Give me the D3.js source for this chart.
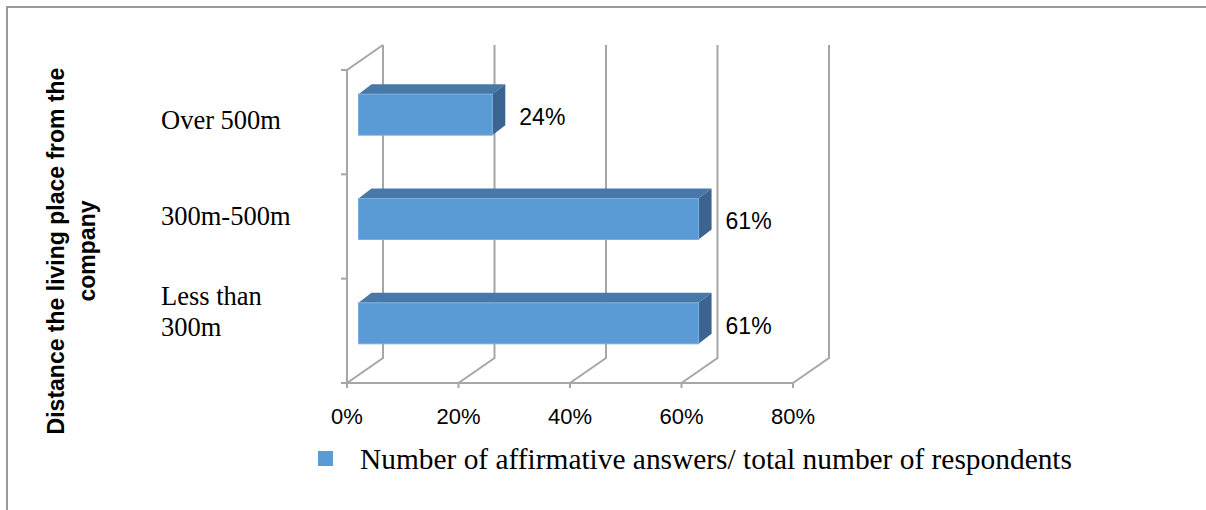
<!DOCTYPE html>
<html>
<head>
<meta charset="utf-8">
<script src="https://cdn.jsdelivr.net/npm/d3@7"></script>
<style>
  html, body { margin: 0; padding: 0; background: #fff; }
  svg { display: block; }
</style>
</head>
<body>
<svg id="chart" width="1206" height="510"></svg>
<script>
// Categories from top to bottom, with their shares of affirmative answers (%)
const categories = ["Over 500m", "300m-500m", "Less than 300m"];
const values = [24, 61, 61];
const tickValues = [0, 20, 40, 60, 80];
const tickLabels = ["0%", "20%", "40%", "60%", "80%"];
const axisTitleLines = ["Distance the living place from the", "company"];
const legendLabel = "Number of affirmative answers/ total number of respondents";

const svg = d3.select("#chart");

// Outer frame (top and left edges)
svg.append("path")
  .attr("d", "M7,510 L7,7 L1206,7")
  .attr("fill", "none")
  .attr("stroke", "#9a9a9a")
  .attr("stroke-width", 2);

// Front plane of the 3-D box; depth offset for the back walls
const x = d3.scaleLinear().domain([0, 80]).range([347, 793]);
const y = d3.scaleBand().domain(categories).range([70, 383])
  .paddingInner(0.607).paddingOuter(0.3035);
const depth = { dx: 36, dy: -25 };
const barDepth = { dx: 13, dy: -10 };
const barShift = { dx: (depth.dx - barDepth.dx) / 2, dy: (depth.dy - barDepth.dy) / 2 };

const yTop = y.range()[0], yBottom = y.range()[1];
const gridColor = "#a6a6a6";
const grid = svg.append("g").attr("fill", "none").attr("stroke", gridColor).attr("stroke-width", 2);

// Back wall gridlines and floor diagonals
tickValues.forEach(v => {
  const fx = x(v), bx = x(v) + depth.dx;
  grid.append("path")
    .attr("d", `M${bx},${yTop + depth.dy} L${bx},${yBottom + depth.dy} L${fx},${yBottom}`);
  // tick below floor edge
  grid.append("line").attr("x1", fx).attr("x2", fx).attr("y1", yBottom).attr("y2", yBottom + 5);
});

// Floor front edge
grid.append("line").attr("x1", x(0)).attr("x2", x(80)).attr("y1", yBottom).attr("y2", yBottom);

// Side wall: front edge and top edge
grid.append("path")
  .attr("d", `M${x(0)},${yBottom} L${x(0)},${yTop} L${x(0) + depth.dx},${yTop + depth.dy}`);

// Category ticks on the side wall
d3.range(categories.length + 1).forEach(i => {
  const ty = yTop + i * y.step();
  grid.append("line").attr("x1", x(0) - 6).attr("x2", x(0)).attr("y1", ty).attr("y2", ty);
});

// Bars drawn as boxes: top face, end face, front face
const bars = svg.append("g").selectAll("g").data(categories).join("g");
bars.each(function (c, i) {
  const g = d3.select(this);
  const x0 = x(0) + barShift.dx, x1 = x(values[i]) + barShift.dx;
  const y0 = y(c) + barShift.dy, y1 = y0 + y.bandwidth();
  const dx = barDepth.dx, dy = barDepth.dy;
  g.append("path")
    .attr("d", `M${x0},${y0} L${x0 + dx},${y0 + dy} L${x1 + dx},${y0 + dy} L${x1},${y0} Z`)
    .attr("fill", "#4878a8");
  g.append("path")
    .attr("d", `M${x1},${y0} L${x1 + dx},${y0 + dy} L${x1 + dx},${y1 + dy} L${x1},${y1} Z`)
    .attr("fill", "#3b6590");
  g.append("rect")
    .attr("x", x0).attr("y", y0).attr("width", x1 - x0).attr("height", y1 - y0)
    .attr("fill", "#5b9bd5")
    .attr("stroke", "#79afe0").attr("stroke-width", 1);
  // value label
  g.append("text")
    .attr("x", x1 + dx + 14)
    .attr("y", (y0 + y1) / 2 + 2)
    .attr("dy", "0.36em")
    .attr("font-family", "'Liberation Sans', Arial, sans-serif")
    .attr("font-size", 23)
    .attr("fill", "#000")
    .text(values[i] + "%");
});

// Value axis labels
svg.append("g").selectAll("text").data(tickValues).join("text")
  .attr("x", d => x(d))
  .attr("y", 424)
  .attr("text-anchor", "middle")
  .attr("font-family", "'Liberation Sans', Arial, sans-serif")
  .attr("font-size", 22)
  .attr("fill", "#000")
  .text((d, i) => tickLabels[i]);

// Category labels, wrapped when wider than the label column
const labelY = d3.scalePoint().domain(categories).range([120, 311]);
const catText = svg.append("g").selectAll("text").data(categories).join("text")
  .attr("font-family", "'Liberation Serif', 'Times New Roman', serif")
  .attr("font-size", 26.5)
  .attr("fill", "#000");
catText.each(function (c) {
  const t = d3.select(this);
  const words = c.split(" ");
  const lines = [];
  let line = [];
  const probe = t.append("tspan");
  words.forEach(w => {
    const trial = line.concat(w).join(" ");
    probe.text(trial);
    if (probe.node().getComputedTextLength() > 140 && line.length) {
      lines.push(line.join(" "));
      line = [w];
    } else {
      line.push(w);
    }
  });
  lines.push(line.join(" "));
  probe.remove();
  const lh = 31;
  const first = labelY(c) - (lines.length - 1) * lh / 2;
  lines.forEach((l, k) => {
    t.append("tspan").attr("x", 161).attr("y", first + k * lh).attr("dy", "0.35em").text(l);
  });
});

// Axis title (rotated)
const title = svg.append("text")
  .attr("transform", "translate(64,251) rotate(-90)")
  .attr("text-anchor", "middle")
  .attr("font-family", "'Liberation Sans', Arial, sans-serif")
  .attr("font-weight", "bold")
  .attr("font-size", 23)
  .attr("fill", "#000");
axisTitleLines.forEach((l, k) => {
  title.append("tspan").attr("x", 0).attr("y", k * 31).text(l);
});

// Legend
const legend = svg.append("g");
legend.append("rect")
  .attr("x", 318).attr("y", 451).attr("width", 15).attr("height", 15)
  .attr("fill", "#5b9bd5");
legend.append("text")
  .attr("x", 360).attr("y", 469)
  .attr("font-family", "'Liberation Serif', 'Times New Roman', serif")
  .attr("font-size", 29.4)
  .attr("fill", "#000")
  .text(legendLabel);
</script>
</body>
</html>
